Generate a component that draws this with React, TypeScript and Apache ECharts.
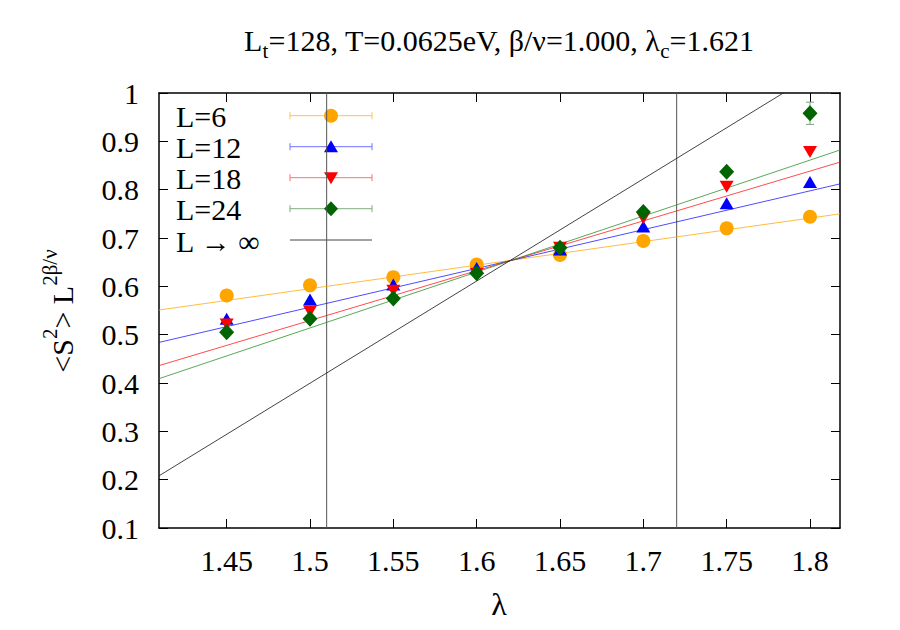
import React, { useEffect, useRef } from "react";
import * as echarts from "echarts";

// Coupling values (x) and measured <S^2> L^(2β/ν) for each lattice size
const lambdas = [1.45, 1.5, 1.55, 1.6, 1.65, 1.7, 1.75, 1.8];
const valuesL6 = [0.581, 0.602, 0.619, 0.645, 0.665, 0.694, 0.72, 0.744];
const valuesL12 = [0.533, 0.573, 0.604, 0.638, 0.676, 0.724, 0.772, 0.816];
const valuesL18 = [0.521, 0.548, 0.591, 0.626, 0.68, 0.741, 0.806, 0.878];
const valuesL24 = [0.505, 0.533, 0.575, 0.627, 0.68, 0.754, 0.837, 0.958];
const errorsL24 = [0, 0, 0, 0, 0, 0, 0, 0.023];

// Linear fits, given by their end points [λ, value]
const fitL6 = [[1.4094, 0.551], [1.818, 0.75]];
const fitL12 = [[1.4094, 0.484], [1.818, 0.812]];
const fitL18 = [[1.4094, 0.436], [1.818, 0.857]];
const fitL24 = [[1.4094, 0.409], [1.818, 0.882]];
const fitInf = [[1.4094, 0.208], [1.784, 1.0]];

// Fit window boundaries
const windowLambdas = [1.51, 1.72];

const xTicks = [1.45, 1.5, 1.55, 1.6, 1.65, 1.7, 1.75, 1.8];
const xMin = 1.4094;
const xMax = 1.818;

const FONT = "Liberation Serif";
const FS = 30;

const ORANGE = "#ffa500";
const BLUE = "#0000ff";
const RED = "#ff0000";
const DGREEN = "#006400";

const legendItems = [
  { label: "L=6", color: ORANGE, bar: "#ffc24f", mark: "circle" },
  { label: "L=12", color: BLUE, bar: "#7070ff", mark: "up" },
  { label: "L=18", color: RED, bar: "#ff7070", mark: "down" },
  { label: "L=24", color: DGREEN, bar: "#7fae7f", mark: "diamond" },
  { label: "L \u2192 \u221e", color: "#333", bar: "#444", mark: "none" },
];

function legendGraphics() {
  const els: any[] = [];
  const x0 = 290;
  const x1 = 372;
  const xc = 331;
  const ys = [115.7, 146.7, 177.7, 208.7, 240];
  legendItems.forEach((it, i) => {
    const y = ys[i];
    els.push({
      type: "text",
      x: 176,
      y: y + 1,
      style: {
        text: it.label,
        fontFamily: FONT,
        fontSize: FS,
        fill: "#000",
        align: "left",
        verticalAlign: "middle",
      },
    });
    els.push({
      type: "line",
      shape: { x1: x0, y1: y, x2: x1, y2: y },
      style: { stroke: it.bar, lineWidth: 1 },
    });
    if (it.mark !== "none") {
      els.push({
        type: "line",
        shape: { x1: x0, y1: y - 3.5, x2: x0, y2: y + 3.5 },
        style: { stroke: it.bar, lineWidth: 1 },
      });
      els.push({
        type: "line",
        shape: { x1: x1, y1: y - 3.5, x2: x1, y2: y + 3.5 },
        style: { stroke: it.bar, lineWidth: 1 },
      });
    }
    if (it.mark === "circle") {
      els.push({ type: "circle", shape: { cx: xc, cy: y, r: 7 }, style: { fill: it.color } });
    } else if (it.mark === "up") {
      els.push({
        type: "polygon",
        shape: { points: [[xc - 7, y + 5.5], [xc + 7, y + 5.5], [xc, y - 6.5]] },
        style: { fill: it.color },
      });
    } else if (it.mark === "down") {
      els.push({
        type: "polygon",
        shape: { points: [[xc - 7, y - 5.5], [xc + 7, y - 5.5], [xc, y + 6.5]] },
        style: { fill: it.color },
      });
    } else if (it.mark === "diamond") {
      els.push({
        type: "polygon",
        shape: { points: [[xc - 7, y], [xc, y - 7.5], [xc + 7, y], [xc, y + 7.5]] },
        style: { fill: it.color },
      });
    }
  });
  return els;
}

function pairs(values: number[]) {
  return lambdas.map((l, i) => [l, values[i]]);
}

function errorBarSeries(values: number[], errors: number[], color: string) {
  return {
    type: "custom",
    z: 2,
    silent: true,
    data: lambdas
      .map((l, i) => [l, values[i], errors[i]])
      .filter((d) => d[2] > 0),
    renderItem: (_params: any, api: any) => {
      const x = api.value(0);
      const y = api.value(1);
      const e = api.value(2);
      const top = api.coord([x, y + e]);
      const bot = api.coord([x, y - e]);
      const hw = 4;
      const style = { stroke: color, lineWidth: 1 };
      return {
        type: "group",
        children: [
          { type: "line", shape: { x1: top[0], y1: top[1], x2: bot[0], y2: bot[1] }, style },
          { type: "line", shape: { x1: top[0] - hw, y1: top[1], x2: top[0] + hw, y2: top[1] }, style },
          { type: "line", shape: { x1: bot[0] - hw, y1: bot[1], x2: bot[0] + hw, y2: bot[1] }, style },
        ],
      };
    },
  };
}

function fitSeries(data: number[][], color: string, opacity = 0.8) {
  return {
    type: "line",
    data,
    showSymbol: false,
    symbol: "none",
    silent: true,
    z: 1,
    clip: true,
    lineStyle: { color, width: 1, opacity },
  };
}

function scatterSeries(name: string, values: number[], color: string, symbol: string, size: number[], rotate = 0) {
  return {
    type: "scatter",
    name,
    data: pairs(values),
    symbol,
    symbolSize: size,
    symbolRotate: rotate,
    itemStyle: { color, opacity: 1 },
    z: 3,
  };
}

export default function App() {
  const ref = useRef<HTMLDivElement>(null);

  useEffect(() => {
    if (!ref.current) return;
    const chart = echarts.init(ref.current, null, { renderer: "svg" });

    const axisLine = { show: true, lineStyle: { color: "#000", width: 1.5 } };
    const tickStyle = { color: "#000", width: 1 };

    const option: any = {
      animation: false,
      backgroundColor: "#fff",
      textStyle: { fontFamily: FONT },
      grid: { left: 159, right: 60, top: 93, bottom: 102, containLabel: false },
      xAxis: [
        {
          type: "value",
          min: xMin,
          max: xMax,
          position: "bottom",
          axisLine,
          splitLine: { show: false },
          axisTick: { show: true, inside: true, length: 9, lineStyle: tickStyle, customValues: xTicks },
          axisLabel: {
            show: true,
            customValues: xTicks,
            margin: 17,
            fontFamily: FONT,
            fontSize: FS,
            color: "#000",
            formatter: (v: number) => String(parseFloat(v.toFixed(2))),
          },
        },
        {
          type: "value",
          min: xMin,
          max: xMax,
          position: "top",
          axisLine,
          splitLine: { show: false },
          axisTick: { show: true, inside: true, length: 9, lineStyle: tickStyle, customValues: xTicks },
          axisLabel: { show: false },
        },
      ],
      yAxis: [
        {
          type: "value",
          min: 0.1,
          max: 1,
          interval: 0.1,
          position: "left",
          axisLine,
          splitLine: { show: false },
          axisTick: { show: true, inside: true, length: 9, lineStyle: tickStyle },
          axisLabel: {
            show: true,
            margin: 20,
            showMinLabel: true,
            showMaxLabel: true,
            fontFamily: FONT,
            fontSize: FS,
            color: "#000",
            formatter: (v: number) => String(parseFloat(v.toFixed(1))),
          },
        },
        {
          type: "value",
          min: 0.1,
          max: 1,
          interval: 0.1,
          position: "right",
          axisLine,
          splitLine: { show: false },
          axisTick: { show: true, inside: true, length: 9, lineStyle: tickStyle },
          axisLabel: { show: false },
        },
      ],
      graphic: [
        {
          type: "text",
          x: 499,
          y: 40,
          style: {
            text: "{n|L}{s|t}{n|=128, T=0.0625eV, \u03b2/\u03bd=1.000, \u03bb}{s|c}{n|=1.621}",
            align: "center",
            verticalAlign: "middle",
            rich: {
              n: { fontFamily: FONT, fontSize: FS, lineHeight: 42, fill: "#000" },
              s: { fontFamily: FONT, fontSize: 21, lineHeight: 21, verticalAlign: "bottom", fill: "#000" },
            },
          },
        },
        {
          type: "text",
          x: 499,
          y: 604,
          style: {
            text: "\u03bb",
            fontFamily: FONT,
            fontSize: 32,
            fill: "#000",
            align: "center",
            verticalAlign: "middle",
          },
        },
        {
          type: "text",
          x: 62,
          y: 311,
          rotation: Math.PI / 2,
          style: {
            text: "{n|<S}{p|2}{n|> L}{p|2\u03b2/\u03bd}",
            align: "center",
            verticalAlign: "middle",
            rich: {
              n: { fontFamily: FONT, fontSize: FS, lineHeight: 46, fill: "#000" },
              p: { fontFamily: FONT, fontSize: 21, lineHeight: 21, verticalAlign: "top", fill: "#000" },
            },
          },
        },
        ...legendGraphics(),
      ],
      series: [
        // Fit window boundaries
        ...windowLambdas.map((l) => ({
          type: "line",
          data: [[l, 0.1], [l, 1]],
          showSymbol: false,
          symbol: "none",
          silent: true,
          z: 1,
          lineStyle: { color: "#555", width: 1 },
        })),
        fitSeries(fitL6, ORANGE, 0.75),
        fitSeries(fitL12, BLUE, 0.7),
        fitSeries(fitL18, RED, 0.7),
        fitSeries(fitL24, "#228b22", 0.75),
        fitSeries(fitInf, "#222", 0.85),
        errorBarSeries(valuesL24, errorsL24, "#7fa07f"),
        scatterSeries("L=6", valuesL6, ORANGE, "circle", [14, 14]),
        scatterSeries("L=12", valuesL12, BLUE, "triangle", [14, 12]),
        scatterSeries("L=18", valuesL18, RED, "triangle", [14, 12], 180),
        scatterSeries("L=24", valuesL24, DGREEN, "diamond", [15, 16]),
      ],
    };

    chart.setOption(option);
    return () => chart.dispose();
  }, []);

  return (
    <div
      ref={ref}
      style={{ position: "absolute", left: 0, top: 0, width: 900, height: 630, background: "#fff" }}
    />
  );
}
